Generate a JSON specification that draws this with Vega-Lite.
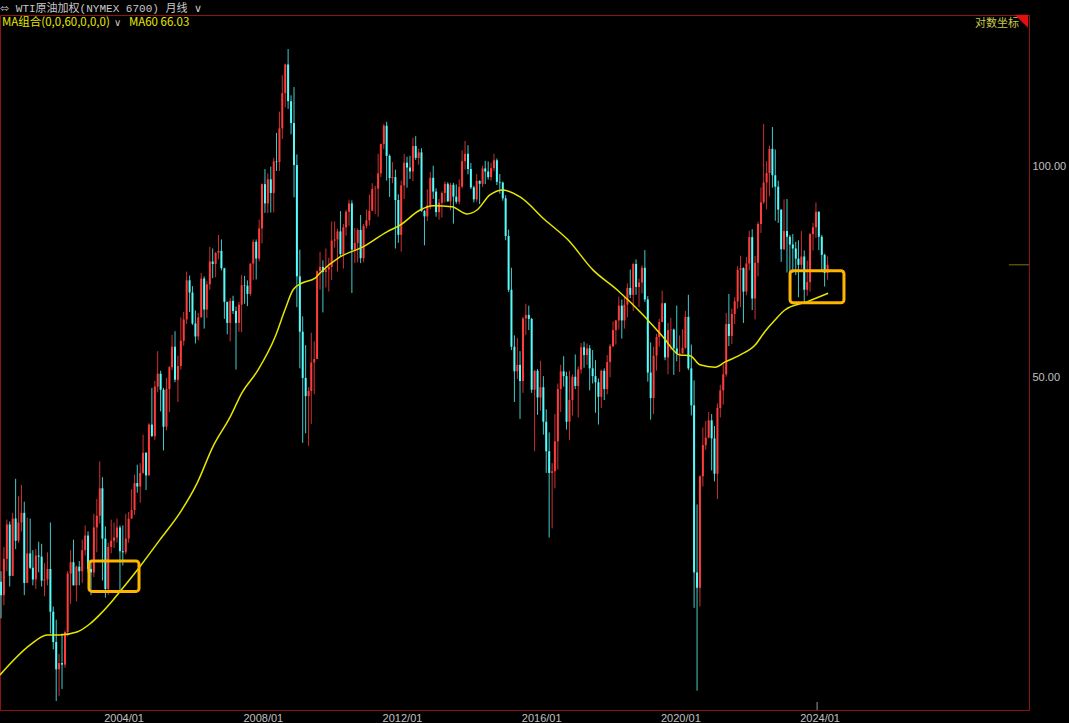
{
"$schema":"https://vega.github.io/schema/vega-lite/v6.json",
"width":1029,"height":695,
"autosize":{"type":"none"},
"padding":{"left":0,"top":15,"right":40,"bottom":13},
"background":"#000000",
"config":{"view":{"stroke":"#8c1414","strokeWidth":1},"axis":{"labelFont":"Liberation Sans","labelFontSize":11,"labelColor":"#c0c0c0","domainColor":"#8c1414","ticks":false,"grid":false}},
"title":{"text":"⬄ WTI原油加权(NYMEX 6700)  月线 ∨","anchor":"start","frame":"group","offset":1,"dx":0,"fontSize":11,"fontWeight":"normal","font":"Liberation Mono, DejaVu Sans, Noto Sans CJK SC","color":"#c8c8c8"},
"resolve":{"axis":{"x":"independent","y":"independent"}},
"datasets":{
"k":[
{"d":"2000-04-01","o":25.6,"h":26.5,"l":22.7,"c":24.5},
{"d":"2000-05-01","o":24.5,"h":28.7,"l":23.7,"c":27.6},
{"d":"2000-06-01","o":27.6,"h":31.4,"l":26.5,"c":30.9},
{"d":"2000-07-01","o":30.9,"h":31.2,"l":25.2,"c":26.1},
{"d":"2000-08-01","o":26.1,"h":32.1,"l":26.1,"c":31.5},
{"d":"2000-09-01","o":31.5,"h":35.9,"l":28.5,"c":29.3},
{"d":"2000-10-01","o":29.3,"h":33.9,"l":29.1,"c":31.1},
{"d":"2000-11-01","o":31.1,"h":35.2,"l":30.2,"c":32.1},
{"d":"2000-12-01","o":32.1,"h":33.3,"l":24.5,"c":25.5},
{"d":"2001-01-01","o":25.5,"h":31.6,"l":25.5,"c":28.1},
{"d":"2001-02-01","o":28.1,"h":31.5,"l":26.7,"c":26.8},
{"d":"2001-03-01","o":26.8,"h":28.4,"l":25.3,"c":25.8},
{"d":"2001-04-01","o":25.8,"h":28.5,"l":25.0,"c":27.9},
{"d":"2001-05-01","o":27.9,"h":29.2,"l":26.4,"c":27.8},
{"d":"2001-06-01","o":27.8,"h":29.0,"l":25.2,"c":25.7},
{"d":"2001-07-01","o":25.7,"h":27.2,"l":24.4,"c":25.8},
{"d":"2001-08-01","o":25.8,"h":28.2,"l":25.3,"c":26.7},
{"d":"2001-09-01","o":26.7,"h":31.1,"l":21.6,"c":23.2},
{"d":"2001-10-01","o":23.2,"h":23.6,"l":20.5,"c":21.0},
{"d":"2001-11-01","o":21.0,"h":22.6,"l":17.3,"c":19.2},
{"d":"2001-12-01","o":19.2,"h":20.2,"l":17.6,"c":19.6},
{"d":"2002-01-01","o":19.6,"h":21.6,"l":18.0,"c":19.5},
{"d":"2002-02-01","o":19.5,"h":21.8,"l":19.3,"c":21.7},
{"d":"2002-03-01","o":21.7,"h":26.5,"l":21.4,"c":26.3},
{"d":"2002-04-01","o":26.3,"h":28.4,"l":23.8,"c":27.3},
{"d":"2002-05-01","o":27.3,"h":29.4,"l":25.3,"c":25.3},
{"d":"2002-06-01","o":25.3,"h":27.0,"l":24.0,"c":26.9},
{"d":"2002-07-01","o":26.9,"h":27.4,"l":25.3,"c":26.5},
{"d":"2002-08-01","o":26.5,"h":29.4,"l":25.5,"c":28.4},
{"d":"2002-09-01","o":28.4,"h":30.8,"l":27.9,"c":29.8},
{"d":"2002-10-01","o":29.8,"h":30.2,"l":26.4,"c":26.7},
{"d":"2002-11-01","o":26.7,"h":27.4,"l":24.5,"c":26.4},
{"d":"2002-12-01","o":26.4,"h":32.0,"l":26.0,"c":30.6},
{"d":"2003-01-01","o":30.6,"h":33.6,"l":28.2,"c":31.8},
{"d":"2003-02-01","o":31.8,"h":38.0,"l":31.0,"c":34.8},
{"d":"2003-03-01","o":34.8,"h":36.1,"l":25.7,"c":29.5},
{"d":"2003-04-01","o":29.5,"h":30.7,"l":24.3,"c":25.0},
{"d":"2003-05-01","o":25.0,"h":29.1,"l":24.5,"c":28.7},
{"d":"2003-06-01","o":28.7,"h":31.4,"l":28.1,"c":29.3},
{"d":"2003-07-01","o":29.3,"h":31.1,"l":28.6,"c":29.6},
{"d":"2003-08-01","o":29.6,"h":31.5,"l":29.1,"c":30.6},
{"d":"2003-09-01","o":30.6,"h":30.8,"l":24.7,"c":28.3},
{"d":"2003-10-01","o":28.3,"h":30.8,"l":27.0,"c":28.2},
{"d":"2003-11-01","o":28.2,"h":32.0,"l":28.0,"c":29.5},
{"d":"2003-12-01","o":29.5,"h":32.2,"l":29.1,"c":31.5},
{"d":"2004-01-01","o":31.5,"h":34.7,"l":31.5,"c":32.4},
{"d":"2004-02-01","o":32.4,"h":36.4,"l":31.9,"c":35.4},
{"d":"2004-03-01","o":35.4,"h":37.6,"l":34.3,"c":35.0},
{"d":"2004-04-01","o":35.0,"h":37.8,"l":33.2,"c":36.6},
{"d":"2004-05-01","o":36.6,"h":41.5,"l":36.5,"c":39.1},
{"d":"2004-06-01","o":39.1,"h":39.2,"l":34.6,"c":36.3},
{"d":"2004-07-01","o":36.3,"h":43.1,"l":36.3,"c":42.9},
{"d":"2004-08-01","o":42.9,"h":48.4,"l":41.2,"c":41.3},
{"d":"2004-09-01","o":41.3,"h":49.5,"l":40.8,"c":48.6},
{"d":"2004-10-01","o":48.6,"h":54.6,"l":47.7,"c":50.7},
{"d":"2004-11-01","o":50.7,"h":51.2,"l":44.8,"c":48.1},
{"d":"2004-12-01","o":48.1,"h":48.4,"l":39.4,"c":42.6},
{"d":"2005-01-01","o":42.6,"h":50.0,"l":42.1,"c":48.2},
{"d":"2005-02-01","o":48.2,"h":52.0,"l":44.7,"c":51.8},
{"d":"2005-03-01","o":51.8,"h":57.6,"l":51.3,"c":55.4},
{"d":"2005-04-01","o":55.4,"h":58.3,"l":49.3,"c":49.7},
{"d":"2005-05-01","o":49.7,"h":53.8,"l":46.2,"c":52.0},
{"d":"2005-06-01","o":52.0,"h":61.0,"l":51.4,"c":56.5},
{"d":"2005-07-01","o":56.5,"h":62.1,"l":55.6,"c":60.6},
{"d":"2005-08-01","o":60.6,"h":70.9,"l":59.7,"c":68.9},
{"d":"2005-09-01","o":68.9,"h":70.0,"l":62.1,"c":66.2},
{"d":"2005-10-01","o":66.2,"h":67.6,"l":59.5,"c":59.8},
{"d":"2005-11-01","o":59.8,"h":62.4,"l":56.0,"c":57.3},
{"d":"2005-12-01","o":57.3,"h":61.9,"l":56.6,"c":61.0},
{"d":"2006-01-01","o":61.0,"h":70.6,"l":61.0,"c":69.3},
{"d":"2006-02-01","o":69.3,"h":69.8,"l":58.8,"c":62.6},
{"d":"2006-03-01","o":62.6,"h":68.7,"l":60.9,"c":68.0},
{"d":"2006-04-01","o":68.0,"h":76.9,"l":66.8,"c":73.3},
{"d":"2006-05-01","o":73.3,"h":76.5,"l":69.4,"c":72.7},
{"d":"2006-06-01","o":72.7,"h":75.6,"l":69.6,"c":75.4},
{"d":"2006-07-01","o":75.4,"h":80.0,"l":73.8,"c":75.9},
{"d":"2006-08-01","o":75.9,"h":78.8,"l":71.2,"c":71.7},
{"d":"2006-09-01","o":71.7,"h":71.8,"l":60.7,"c":64.2},
{"d":"2006-10-01","o":64.2,"h":64.2,"l":57.7,"c":59.9},
{"d":"2006-11-01","o":59.9,"h":65.0,"l":56.4,"c":64.4},
{"d":"2006-12-01","o":64.4,"h":65.5,"l":61.7,"c":62.3},
{"d":"2007-01-01","o":62.3,"h":63.2,"l":51.4,"c":59.9},
{"d":"2007-02-01","o":59.9,"h":64.2,"l":58.2,"c":63.6},
{"d":"2007-03-01","o":63.6,"h":70.1,"l":58.1,"c":67.8},
{"d":"2007-04-01","o":67.8,"h":69.9,"l":63.8,"c":67.7},
{"d":"2007-05-01","o":67.7,"h":68.9,"l":63.3,"c":65.9},
{"d":"2007-06-01","o":65.9,"h":72.8,"l":65.5,"c":72.8},
{"d":"2007-07-01","o":72.8,"h":78.8,"l":69.0,"c":78.2},
{"d":"2007-08-01","o":78.2,"h":78.8,"l":69.1,"c":74.0},
{"d":"2007-09-01","o":74.0,"h":84.1,"l":73.3,"c":81.7},
{"d":"2007-10-01","o":81.7,"h":94.7,"l":77.8,"c":94.5},
{"d":"2007-11-01","o":94.5,"h":99.3,"l":86.0,"c":88.7},
{"d":"2007-12-01","o":88.7,"h":97.9,"l":85.9,"c":96.0},
{"d":"2008-01-01","o":96.0,"h":100.1,"l":86.1,"c":91.8},
{"d":"2008-02-01","o":91.8,"h":103.0,"l":86.1,"c":101.8},
{"d":"2008-03-01","o":101.8,"h":111.8,"l":98.7,"c":101.6},
{"d":"2008-04-01","o":101.6,"h":119.9,"l":98.7,"c":113.5},
{"d":"2008-05-01","o":113.5,"h":135.1,"l":109.6,"c":127.4},
{"d":"2008-06-01","o":127.4,"h":140.4,"l":121.6,"c":140.0},
{"d":"2008-07-01","o":140.0,"h":147.3,"l":121.0,"c":124.1},
{"d":"2008-08-01","o":124.1,"h":126.5,"l":111.3,"c":115.5},
{"d":"2008-09-01","o":115.5,"h":130.0,"l":90.5,"c":100.6},
{"d":"2008-10-01","o":100.6,"h":104.2,"l":63.1,"c":69.8},
{"d":"2008-11-01","o":69.8,"h":76.2,"l":51.6,"c":58.2},
{"d":"2008-12-01","o":58.2,"h":61.2,"l":40.4,"c":50.0},
{"d":"2009-01-01","o":50.0,"h":55.7,"l":41.7,"c":47.1},
{"d":"2009-02-01","o":47.1,"h":48.5,"l":40.0,"c":47.9},
{"d":"2009-03-01","o":47.9,"h":58.0,"l":43.0,"c":52.6},
{"d":"2009-04-01","o":52.6,"h":56.4,"l":47.4,"c":53.2},
{"d":"2009-05-01","o":53.2,"h":71.2,"l":53.2,"c":71.0},
{"d":"2009-06-01","o":71.0,"h":75.6,"l":66.8,"c":72.0},
{"d":"2009-07-01","o":72.0,"h":73.6,"l":62.0,"c":70.8},
{"d":"2009-08-01","o":70.8,"h":76.5,"l":67.3,"c":71.4},
{"d":"2009-09-01","o":71.4,"h":74.2,"l":66.4,"c":72.0},
{"d":"2009-10-01","o":72.0,"h":83.6,"l":69.0,"c":78.5},
{"d":"2009-11-01","o":78.5,"h":83.6,"l":76.7,"c":78.8},
{"d":"2009-12-01","o":78.8,"h":81.6,"l":70.9,"c":80.9},
{"d":"2010-01-01","o":80.9,"h":86.5,"l":74.6,"c":75.1},
{"d":"2010-02-01","o":75.1,"h":82.9,"l":71.6,"c":82.0},
{"d":"2010-03-01","o":82.0,"h":86.8,"l":79.8,"c":86.3},
{"d":"2010-04-01","o":86.3,"h":89.8,"l":82.4,"c":88.7},
{"d":"2010-05-01","o":88.7,"h":89.6,"l":66.1,"c":76.2},
{"d":"2010-06-01","o":76.2,"h":81.8,"l":72.9,"c":77.9},
{"d":"2010-07-01","o":77.9,"h":81.7,"l":73.1,"c":81.3},
{"d":"2010-08-01","o":81.3,"h":85.4,"l":72.9,"c":74.1},
{"d":"2010-09-01","o":74.1,"h":82.9,"l":73.1,"c":82.4},
{"d":"2010-10-01","o":82.4,"h":86.9,"l":81.7,"c":83.9},
{"d":"2010-11-01","o":83.9,"h":91.3,"l":82.5,"c":86.6},
{"d":"2010-12-01","o":86.6,"h":94.8,"l":86.5,"c":93.0},
{"d":"2011-01-01","o":93.0,"h":94.0,"l":85.7,"c":93.1},
{"d":"2011-02-01","o":93.1,"h":104.4,"l":84.9,"c":97.9},
{"d":"2011-03-01","o":97.9,"h":108.0,"l":96.7,"c":107.8},
{"d":"2011-04-01","o":107.8,"h":115.1,"l":106.0,"c":114.5},
{"d":"2011-05-01","o":114.5,"h":116.0,"l":95.6,"c":103.7},
{"d":"2011-06-01","o":103.7,"h":104.2,"l":90.6,"c":96.4},
{"d":"2011-07-01","o":96.4,"h":101.6,"l":94.8,"c":96.7},
{"d":"2011-08-01","o":96.7,"h":99.1,"l":76.5,"c":89.7},
{"d":"2011-09-01","o":89.7,"h":91.4,"l":77.9,"c":80.0},
{"d":"2011-10-01","o":80.0,"h":95.6,"l":75.7,"c":94.1},
{"d":"2011-11-01","o":94.1,"h":104.4,"l":90.0,"c":101.4},
{"d":"2011-12-01","o":101.4,"h":103.4,"l":93.4,"c":99.8},
{"d":"2012-01-01","o":99.8,"h":103.7,"l":96.1,"c":98.5},
{"d":"2012-02-01","o":98.5,"h":110.0,"l":95.4,"c":107.1},
{"d":"2012-03-01","o":107.1,"h":110.6,"l":102.3,"c":103.0},
{"d":"2012-04-01","o":103.0,"h":106.1,"l":100.7,"c":104.9},
{"d":"2012-05-01","o":104.9,"h":106.3,"l":86.3,"c":86.5},
{"d":"2012-06-01","o":86.5,"h":86.8,"l":77.3,"c":85.0},
{"d":"2012-07-01","o":85.0,"h":92.9,"l":83.7,"c":88.1},
{"d":"2012-08-01","o":88.1,"h":98.3,"l":87.0,"c":96.5},
{"d":"2012-09-01","o":96.5,"h":100.4,"l":90.0,"c":92.2},
{"d":"2012-10-01","o":92.2,"h":93.2,"l":84.9,"c":86.2},
{"d":"2012-11-01","o":86.2,"h":90.0,"l":84.1,"c":88.9},
{"d":"2012-12-01","o":88.9,"h":92.3,"l":84.7,"c":91.8},
{"d":"2013-01-01","o":91.8,"h":95.3,"l":89.0,"c":94.6},
{"d":"2013-02-01","o":94.6,"h":95.1,"l":89.2,"c":89.3},
{"d":"2013-03-01","o":89.3,"h":94.9,"l":86.7,"c":94.3},
{"d":"2013-04-01","o":94.3,"h":94.9,"l":83.0,"c":90.7},
{"d":"2013-05-01","o":90.7,"h":94.4,"l":88.6,"c":89.2},
{"d":"2013-06-01","o":89.2,"h":96.0,"l":88.4,"c":93.7},
{"d":"2013-07-01","o":93.7,"h":105.6,"l":93.2,"c":101.9},
{"d":"2013-08-01","o":101.9,"h":108.9,"l":99.1,"c":104.4},
{"d":"2013-09-01","o":104.4,"h":107.4,"l":97.6,"c":99.3},
{"d":"2013-10-01","o":99.3,"h":101.3,"l":93.0,"c":93.5},
{"d":"2013-11-01","o":93.5,"h":94.0,"l":89.0,"c":89.9},
{"d":"2013-12-01","o":89.9,"h":97.7,"l":89.2,"c":95.5},
{"d":"2014-01-01","o":95.5,"h":95.7,"l":88.5,"c":94.6},
{"d":"2014-02-01","o":94.6,"h":100.4,"l":93.6,"c":99.5},
{"d":"2014-03-01","o":99.5,"h":102.0,"l":94.5,"c":98.5},
{"d":"2014-04-01","o":98.5,"h":101.8,"l":95.9,"c":96.7},
{"d":"2014-05-01","o":96.7,"h":101.4,"l":95.6,"c":99.6},
{"d":"2014-06-01","o":99.6,"h":104.4,"l":98.6,"c":102.2},
{"d":"2014-07-01","o":102.2,"h":102.8,"l":94.2,"c":95.2},
{"d":"2014-08-01","o":95.2,"h":97.7,"l":91.6,"c":95.0},
{"d":"2014-09-01","o":95.0,"h":95.3,"l":89.5,"c":90.2},
{"d":"2014-10-01","o":90.2,"h":91.1,"l":78.6,"c":79.7},
{"d":"2014-11-01","o":79.7,"h":81.4,"l":66.3,"c":66.8},
{"d":"2014-12-01","o":66.8,"h":71.8,"l":54.8,"c":55.4},
{"d":"2015-01-01","o":55.4,"h":57.5,"l":46.2,"c":51.1},
{"d":"2015-02-01","o":51.1,"h":57.0,"l":49.8,"c":52.2},
{"d":"2015-03-01","o":52.2,"h":54.6,"l":43.7,"c":49.5},
{"d":"2015-04-01","o":49.5,"h":61.1,"l":47.6,"c":60.8},
{"d":"2015-05-01","o":60.8,"h":63.8,"l":57.6,"c":61.5},
{"d":"2015-06-01","o":61.5,"h":63.4,"l":58.5,"c":60.7},
{"d":"2015-07-01","o":60.7,"h":60.9,"l":47.6,"c":48.1},
{"d":"2015-08-01","o":48.1,"h":51.3,"l":39.3,"c":51.2},
{"d":"2015-09-01","o":51.2,"h":51.5,"l":44.3,"c":46.9},
{"d":"2015-10-01","o":46.9,"h":52.9,"l":44.9,"c":48.5},
{"d":"2015-11-01","o":48.5,"h":50.3,"l":41.5,"c":43.3},
{"d":"2015-12-01","o":43.3,"h":45.1,"l":36.6,"c":39.3},
{"d":"2016-01-01","o":39.3,"h":41.8,"l":29.6,"c":36.6},
{"d":"2016-02-01","o":36.6,"h":37.8,"l":30.5,"c":36.8},
{"d":"2016-03-01","o":36.8,"h":44.4,"l":34.8,"c":40.6},
{"d":"2016-04-01","o":40.6,"h":49.1,"l":37.0,"c":48.2},
{"d":"2016-05-01","o":48.2,"h":52.2,"l":44.7,"c":51.1},
{"d":"2016-06-01","o":51.1,"h":53.7,"l":48.6,"c":50.3},
{"d":"2016-07-01","o":50.3,"h":51.0,"l":42.2,"c":43.3},
{"d":"2016-08-01","o":43.3,"h":51.2,"l":40.8,"c":46.5},
{"d":"2016-09-01","o":46.5,"h":50.6,"l":44.2,"c":50.2},
{"d":"2016-10-01","o":50.2,"h":54.0,"l":48.2,"c":48.7},
{"d":"2016-11-01","o":48.7,"h":51.9,"l":43.9,"c":51.4},
{"d":"2016-12-01","o":51.4,"h":56.1,"l":50.7,"c":55.3},
{"d":"2017-01-01","o":55.3,"h":56.3,"l":51.7,"c":53.9},
{"d":"2017-02-01","o":53.9,"h":56.0,"l":52.2,"c":55.1},
{"d":"2017-03-01","o":55.1,"h":55.7,"l":48.0,"c":51.6},
{"d":"2017-04-01","o":51.6,"h":54.8,"l":49.1,"c":50.3},
{"d":"2017-05-01","o":50.3,"h":53.0,"l":44.6,"c":49.3},
{"d":"2017-06-01","o":49.3,"h":49.9,"l":42.9,"c":47.0},
{"d":"2017-07-01","o":47.0,"h":51.4,"l":45.3,"c":51.2},
{"d":"2017-08-01","o":51.2,"h":51.6,"l":46.5,"c":48.2},
{"d":"2017-09-01","o":48.2,"h":53.9,"l":47.4,"c":52.7},
{"d":"2017-10-01","o":52.7,"h":55.9,"l":50.1,"c":55.5},
{"d":"2017-11-01","o":55.5,"h":60.2,"l":55.3,"c":58.5},
{"d":"2017-12-01","o":58.5,"h":60.5,"l":55.8,"c":60.4},
{"d":"2018-01-01","o":60.4,"h":65.3,"l":58.6,"c":63.4},
{"d":"2018-02-01","o":63.4,"h":64.7,"l":56.9,"c":60.4},
{"d":"2018-03-01","o":60.4,"h":65.3,"l":58.8,"c":63.6},
{"d":"2018-04-01","o":63.6,"h":68.2,"l":61.0,"c":67.2},
{"d":"2018-05-01","o":67.2,"h":71.4,"l":65.0,"c":65.7},
{"d":"2018-06-01","o":65.7,"h":73.0,"l":62.3,"c":72.7},
{"d":"2018-07-01","o":72.7,"h":73.8,"l":65.7,"c":67.4},
{"d":"2018-08-01","o":67.4,"h":69.3,"l":63.1,"c":68.4},
{"d":"2018-09-01","o":68.4,"h":72.4,"l":66.0,"c":71.8},
{"d":"2018-10-01","o":71.8,"h":76.1,"l":64.2,"c":64.7},
{"d":"2018-11-01","o":64.7,"h":65.4,"l":49.4,"c":50.9},
{"d":"2018-12-01","o":50.9,"h":56.2,"l":43.6,"c":46.8},
{"d":"2019-01-01","o":46.8,"h":55.4,"l":44.4,"c":53.8},
{"d":"2019-02-01","o":53.8,"h":57.8,"l":51.2,"c":57.2},
{"d":"2019-03-01","o":57.2,"h":60.7,"l":55.4,"c":60.1},
{"d":"2019-04-01","o":60.1,"h":66.6,"l":60.0,"c":63.9},
{"d":"2019-05-01","o":63.9,"h":64.0,"l":53.0,"c":53.5},
{"d":"2019-06-01","o":53.5,"h":59.9,"l":50.6,"c":58.5},
{"d":"2019-07-01","o":58.5,"h":60.9,"l":54.8,"c":58.6},
{"d":"2019-08-01","o":58.6,"h":58.8,"l":50.5,"c":55.1},
{"d":"2019-09-01","o":55.1,"h":63.4,"l":52.8,"c":54.1},
{"d":"2019-10-01","o":54.1,"h":57.5,"l":51.0,"c":54.2},
{"d":"2019-11-01","o":54.2,"h":58.7,"l":54.1,"c":55.2},
{"d":"2019-12-01","o":55.2,"h":62.3,"l":55.0,"c":61.1},
{"d":"2020-01-01","o":61.1,"h":65.7,"l":51.3,"c":51.6},
{"d":"2020-02-01","o":51.6,"h":55.8,"l":44.2,"c":45.7},
{"d":"2020-03-01","o":45.7,"h":49.6,"l":23.5,"c":26.4},
{"d":"2020-04-01","o":26.4,"h":33.0,"l":17.9,"c":25.1},
{"d":"2020-05-01","o":25.1,"h":36.3,"l":23.6,"c":36.2},
{"d":"2020-06-01","o":36.2,"h":42.5,"l":35.0,"c":40.1},
{"d":"2020-07-01","o":40.1,"h":43.4,"l":39.5,"c":41.1},
{"d":"2020-08-01","o":41.1,"h":44.7,"l":41.0,"c":43.5},
{"d":"2020-09-01","o":43.5,"h":44.4,"l":36.9,"c":41.0},
{"d":"2020-10-01","o":41.0,"h":42.7,"l":35.6,"c":36.5},
{"d":"2020-11-01","o":36.5,"h":46.0,"l":33.6,"c":45.3},
{"d":"2020-12-01","o":45.3,"h":48.9,"l":43.9,"c":48.0},
{"d":"2021-01-01","o":48.0,"h":52.3,"l":45.8,"c":50.6},
{"d":"2021-02-01","o":50.6,"h":61.9,"l":50.2,"c":59.7},
{"d":"2021-03-01","o":59.7,"h":65.9,"l":55.5,"c":57.4},
{"d":"2021-04-01","o":57.4,"h":62.8,"l":55.9,"c":61.7},
{"d":"2021-05-01","o":61.7,"h":65.2,"l":59.7,"c":64.3},
{"d":"2021-06-01","o":64.3,"h":72.2,"l":62.8,"c":71.3},
{"d":"2021-07-01","o":71.3,"h":74.7,"l":63.1,"c":71.7},
{"d":"2021-08-01","o":71.7,"h":71.9,"l":59.9,"c":66.4},
{"d":"2021-09-01","o":66.4,"h":74.4,"l":65.6,"c":72.8},
{"d":"2021-10-01","o":72.8,"h":81.1,"l":71.2,"c":79.4},
{"d":"2021-11-01","o":79.4,"h":81.5,"l":62.5,"c":64.9},
{"d":"2021-12-01","o":64.9,"h":74.6,"l":60.6,"c":73.0},
{"d":"2022-01-01","o":73.0,"h":83.5,"l":69.8,"c":82.9},
{"d":"2022-02-01","o":82.9,"h":93.5,"l":80.5,"c":89.0},
{"d":"2022-03-01","o":89.0,"h":115.2,"l":88.6,"c":95.0},
{"d":"2022-04-01","o":95.0,"h":101.9,"l":87.0,"c":98.0},
{"d":"2022-05-01","o":98.0,"h":107.2,"l":90.8,"c":106.1},
{"d":"2022-06-01","o":106.1,"h":114.0,"l":93.4,"c":97.3},
{"d":"2022-07-01","o":97.3,"h":105.9,"l":83.8,"c":93.7},
{"d":"2022-08-01","o":93.7,"h":95.6,"l":83.2,"c":86.9},
{"d":"2022-09-01","o":86.9,"h":87.0,"l":73.2,"c":76.3},
{"d":"2022-10-01","o":76.3,"h":89.9,"l":76.1,"c":81.0},
{"d":"2022-11-01","o":81.0,"h":90.0,"l":70.7,"c":79.5},
{"d":"2022-12-01","o":79.5,"h":80.0,"l":67.3,"c":77.5},
{"d":"2023-01-01","o":77.5,"h":80.2,"l":70.6,"c":76.5},
{"d":"2023-02-01","o":76.5,"h":78.2,"l":70.1,"c":74.0},
{"d":"2023-03-01","o":74.0,"h":78.6,"l":65.2,"c":72.5},
{"d":"2023-04-01","o":72.5,"h":81.0,"l":71.6,"c":74.5},
{"d":"2023-05-01","o":74.5,"h":76.0,"l":64.0,"c":66.8},
{"d":"2023-06-01","o":66.8,"h":73.5,"l":65.5,"c":68.5},
{"d":"2023-07-01","o":68.5,"h":80.5,"l":66.4,"c":80.2},
{"d":"2023-08-01","o":80.2,"h":83.2,"l":76.0,"c":82.0},
{"d":"2023-09-01","o":82.0,"h":89.0,"l":79.2,"c":86.3},
{"d":"2023-10-01","o":86.3,"h":86.4,"l":76.1,"c":79.5},
{"d":"2023-11-01","o":79.5,"h":80.0,"l":71.0,"c":74.9},
{"d":"2023-12-01","o":74.9,"h":75.2,"l":67.5,"c":70.6},
{"d":"2024-01-01","o":70.6,"h":74.5,"l":69.0,"c":72.5}
],
"ma":[
{"d":"2000-03-21","v":18.85},{"d":"2001-02-01","v":20.8},{"d":"2001-07-28","v":21.5},{"d":"2001-12-10","v":21.5},
{"d":"2002-06-06","v":21.7},{"d":"2002-10-22","v":22.3},{"d":"2003-02-04","v":23.0},{"d":"2003-06-19","v":24.1},
{"d":"2003-11-13","v":25.5},{"d":"2004-03-28","v":26.9},{"d":"2004-10-25","v":29.4},{"d":"2005-05-22","v":32.1},
{"d":"2005-11-19","v":35.4},{"d":"2006-05-04","v":39.9},{"d":"2006-11-01","v":44.0},{"d":"2007-03-04","v":47.6},
{"d":"2007-08-19","v":51.3},{"d":"2008-02-15","v":57.2},{"d":"2008-05-28","v":62.5},{"d":"2008-08-22","v":66.8},
{"d":"2008-11-24","v":68.3},{"d":"2009-04-10","v":69.4},{"d":"2009-06-01","v":70.6},{"d":"2009-12-28","v":74.4},
{"d":"2010-08-25","v":76.9},{"d":"2011-05-04","v":80.8},{"d":"2011-09-19","v":82.6},{"d":"2012-04-16","v":86.8},
{"d":"2012-09-01","v":88.0},{"d":"2013-03-16","v":87.7},{"d":"2013-08-22","v":85.7},{"d":"2013-12-04","v":86.8},
{"d":"2014-04-19","v":91.2},{"d":"2014-09-04","v":92.7},{"d":"2015-03-01","v":90.6},{"d":"2015-11-19","v":84.0},
{"d":"2016-07-16","v":78.7},{"d":"2017-04-04","v":71.3},{"d":"2017-12-13","v":66.8},{"d":"2018-09-13","v":61.5},
{"d":"2019-04-10","v":57.2},{"d":"2019-10-04","v":53.9},{"d":"2020-01-19","v":53.8},{"d":"2020-05-01","v":52.2},
{"d":"2020-10-07","v":51.8},{"d":"2021-01-22","v":52.7},{"d":"2021-06-25","v":53.9},{"d":"2021-12-01","v":55.7},
{"d":"2022-03-13","v":58.2},{"d":"2022-06-28","v":60.5},{"d":"2022-10-10","v":62.5},{"d":"2023-05-28","v":64.2},
{"d":"2024-01-07","v":66.03}
]
},
"layer":[
{"data":{"name":"k"},
 "mark":{"type":"rule","strokeWidth":1,"opacity":0.8,"clip":true},
 "encoding":{
  "x":{"field":"d","type":"temporal","title":null,
   "scale":{"domain":[{"year":2000,"month":3,"date":21},{"year":2029,"month":10,"date":15}],"nice":false,"padding":0},
   "axis":{"orient":"bottom","values":[{"year":2004,"month":1,"date":1},{"year":2008,"month":1,"date":1},{"year":2012,"month":1,"date":1},{"year":2016,"month":1,"date":1},{"year":2020,"month":1,"date":1},{"year":2024,"month":1,"date":1}],"format":"%Y/%m","labelOffset":-8,"labelPadding":2,"labelFlush":false,"labelOverlap":false}},
  "y":{"field":"l","type":"quantitative","title":null,
   "scale":{"type":"log","domain":[16.8,164.7],"nice":false,"zero":false,"padding":0},
   "axis":{"orient":"right","values":[50,100],"format":".2f","labelPadding":3}},
  "y2":{"field":"h"},
  "color":{"condition":{"test":"datum.c >= datum.o","value":"#ff3c3c"},"value":"#54fcfc"}}},
{"data":{"name":"k"},
 "mark":{"type":"bar","size":2,"clip":true},
 "encoding":{
  "x":{"field":"d","type":"temporal","axis":null,"scale":{"padding":0}},
  "y":{"field":"o","type":"quantitative","axis":null},
  "y2":{"field":"c"},
  "color":{"condition":{"test":"datum.c >= datum.o","value":"#ff3c3c"},"value":"#54fcfc"}}},
{"data":{"name":"ma"},
 "mark":{"type":"line","color":"#e6e600","strokeWidth":1.5,"interpolate":"monotone","clip":true},
 "encoding":{
  "x":{"field":"d","type":"temporal","axis":null},
  "y":{"field":"v","type":"quantitative","axis":null}}},
{"data":{"values":[{}]},
 "mark":{"type":"rect","filled":false,"stroke":"#ffb400","strokeWidth":3,"cornerRadius":3},
 "encoding":{
  "x":{"datum":{"year":2002,"month":10,"date":11},"type":"temporal","axis":null},
  "x2":{"datum":{"year":2004,"month":3,"date":19}},
  "y":{"datum":27.4,"type":"quantitative","axis":null},
  "y2":{"datum":24.8}}},
{"data":{"values":[{}]},
 "mark":{"type":"rect","filled":false,"stroke":"#ffb400","strokeWidth":3,"cornerRadius":3},
 "encoding":{
  "x":{"datum":{"year":2022,"month":12,"date":3},"type":"temporal","axis":null},
  "x2":{"datum":{"year":2024,"month":6,"date":21}},
  "y":{"datum":71.1,"type":"quantitative","axis":null},
  "y2":{"datum":64.0}}},
{"data":{"values":[{}]},
 "mark":{"type":"rule","color":"#7a7a00","strokeWidth":1},
 "encoding":{
  "x":{"datum":{"year":2029,"month":3,"date":18},"type":"temporal","axis":null},
  "x2":{"datum":{"year":2029,"month":10,"date":15}},
  "y":{"datum":72.5,"type":"quantitative","axis":null}}},
{"data":{"values":[{}]},
 "mark":{"type":"rule","color":"#9a9a9a","strokeWidth":1},
 "encoding":{
  "x":{"datum":{"year":2023,"month":9,"date":13},"type":"temporal","axis":null},
  "y":{"datum":17.25,"type":"quantitative","axis":null},
  "y2":{"datum":16.8}}},
{"data":{"values":[{}]},
 "mark":{"type":"text","text":"MA组合(0,0,60,0,0,0)","align":"left","baseline":"middle","color":"#e8e800","font":"Noto Sans CJK SC","fontSize":11.5},
 "encoding":{
  "x":{"datum":{"year":2000,"month":4,"date":11},"type":"temporal","axis":null},
  "y":{"datum":160.3,"type":"quantitative","axis":null}}},
{"data":{"values":[{}]},
 "mark":{"type":"text","text":"∨","align":"left","baseline":"middle","color":"#c8c8c8","font":"DejaVu Sans","fontSize":10},
 "encoding":{
  "x":{"datum":{"year":2003,"month":7,"date":1},"type":"temporal","axis":null},
  "y":{"datum":160.3,"type":"quantitative","axis":null}}},
{"data":{"values":[{}]},
 "mark":{"type":"text","text":"MA60 66.03","align":"left","baseline":"middle","color":"#e8e800","font":"Noto Sans CJK SC","fontSize":11.5},
 "encoding":{
  "x":{"datum":{"year":2003,"month":12,"date":4},"type":"temporal","axis":null},
  "y":{"datum":160.3,"type":"quantitative","axis":null}}},
{"data":{"values":[{}]},
 "mark":{"type":"text","text":"对数坐标","align":"right","baseline":"middle","color":"#c8c84b","font":"Noto Sans CJK SC","fontSize":11},
 "encoding":{
  "x":{"datum":{"year":2029,"month":7,"date":1},"type":"temporal","axis":null},
  "y":{"datum":160.0,"type":"quantitative","axis":null}}},
{"data":{"values":[{}]},
 "mark":{"type":"point","shape":"M -1 -1 L 1 -1 L 1 1 Z","size":169,"filled":true,"color":"#e01010","opacity":1},
 "encoding":{
  "x":{"datum":{"year":2029,"month":7,"date":28},"type":"temporal","axis":null},
  "y":{"datum":161.3,"type":"quantitative","axis":null}}}
]
}
